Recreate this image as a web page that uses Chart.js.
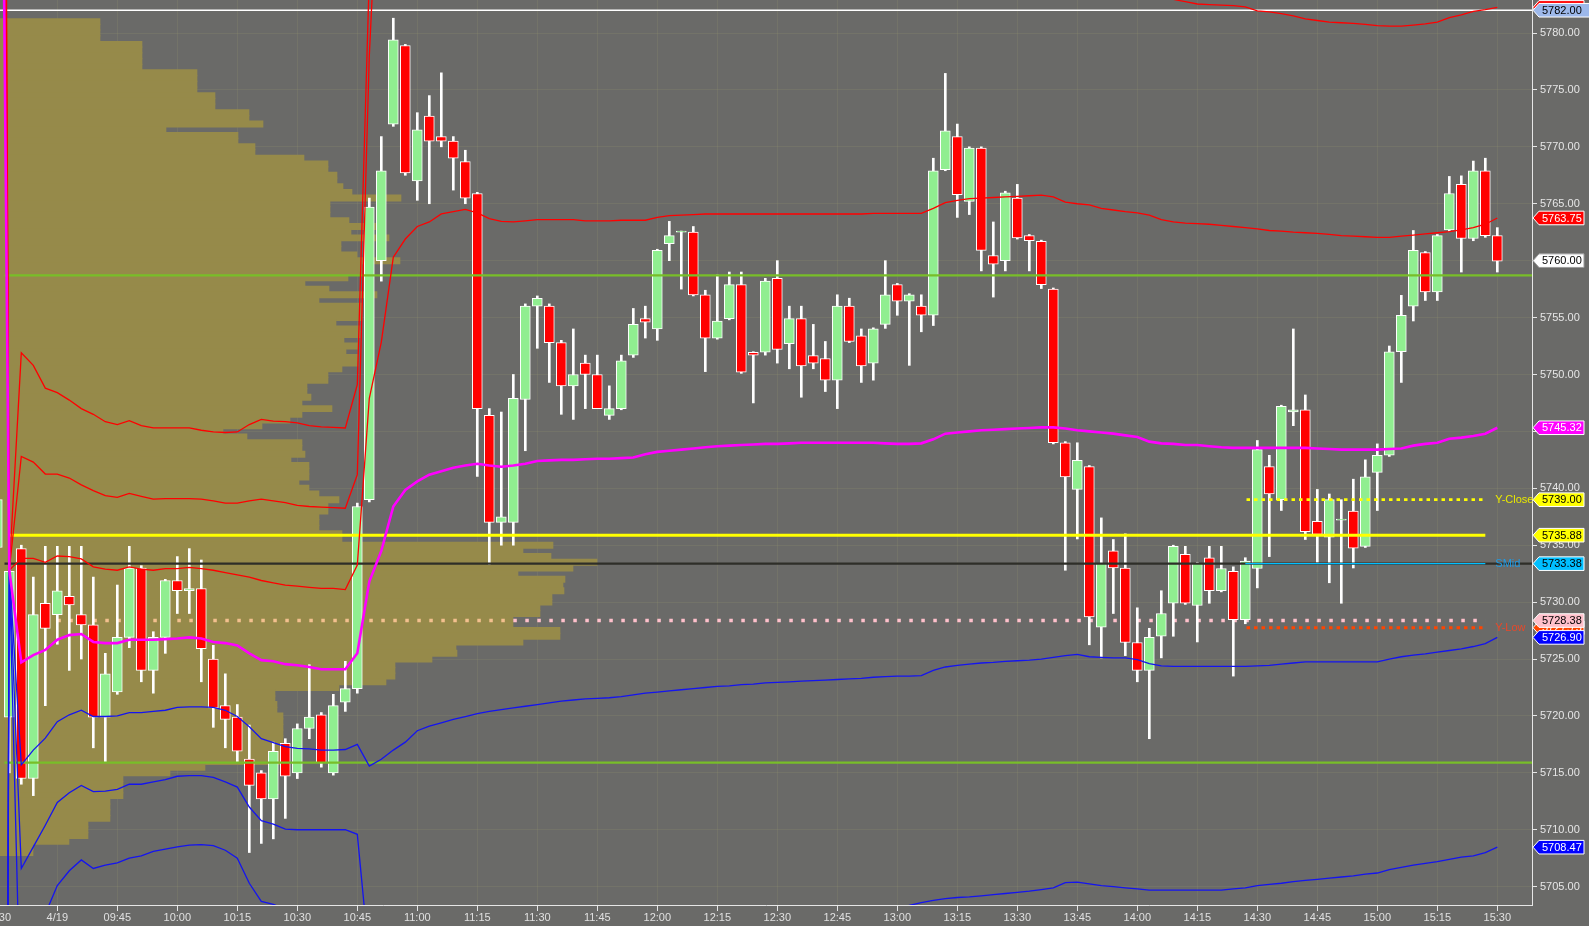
<!DOCTYPE html>
<html><head><meta charset="utf-8">
<script src="https://cdn.jsdelivr.net/npm/chart.js@4.4.1/dist/chart.umd.min.js"></script>
<style>html,body{margin:0;padding:0;background:#6a6a68;overflow:hidden}#wrap{width:1589px;height:926px}</style>
</head><body><div id="wrap"><canvas id="c" width="1589" height="926"></canvas></div>
<script>
// ---------- categories (3-minute bars, index 0 = 4/19 session label) ----------
const barIndex = [-5,-4,-3,-2,-1,0,1,2,3,4,5,6,7,8,9,10,11,12,13,14,15,16,17,18,19,20,21,22,23,24,25,26,27,28,29,30,31,32,33,34,35,36,37,38,39,40,41,42,43,44,45,46,47,48,49,50,51,52,53,54,55,56,57,58,59,60,61,62,63,64,65,66,67,68,69,70,71,72,73,74,75,76,77,78,79,80,81,82,83,84,85,86,87,88,89,90,91,92,93,94,95,96,97,98,99,100,101,102,103,104,105,106,107,108,109,110,111,112,113,114,115,116,117,118,119,120];
const tickBars = [-5,0,5,10,15,20,25,30,35,40,45,50,55,60,65,70,75,80,85,90,95,100,105,110,115,120];
const tickLabels = ["15:30","4/19","09:45","10:00","10:15","10:30","10:45","11:00","11:15","11:30","11:45","12:00","12:15","12:30","12:45","13:00","13:15","13:30","13:45","14:00","14:15","14:30","14:45","15:00","15:15","15:30"];
const yTicks = [5705,5710,5715,5720,5725,5730,5735,5740,5745,5750,5755,5760,5765,5770,5775,5780];

// ---------- candles ----------
const opens = [
5734.8,5719.9,5734.7,5714.5,5729.9,5728.9,5730.5,5728.9,5728.0,5719.9,
5722.1,5726.9,5733.0,5724.0,5726.9,5731.9,5731.0,5731.2,5725.0,5720.9,
5719.9,5716.2,5715.0,5712.7,5717.6,5715.0,5718.9,5720.1,5715.0,5721.2,
5722.4,5739.0,5760.0,5772.0,5778.9,5767.0,5772.7,5770.9,5770.5,5768.7,
5765.9,5746.4,5737.0,5737.0,5747.8,5756.0,5756.0,5752.8,5749.0,5751.0,
5750.0,5746.4,5747.0,5751.7,5754.9,5754.0,5761.5,5762.5,5762.5,5757.0,
5753.2,5754.9,5757.9,5751.95,5751.95,5758.45,5752.7,5754.9,5751.65,5751.4,
5749.5,5756.0,5753.4,5751.0,5754.4,5757.9,5756.45,5756.0,5755.2,5768.0,
5770.9,5765.2,5769.9,5760.45,5760.0,5765.5,5762.2,5761.7,5757.5,5744.0,
5739.9,5741.9,5727.8,5734.5,5733.0,5726.45,5724.0,5727.0,5729.9,5734.2,
5729.7,5733.9,5731.0,5732.7,5728.45,5732.95,5741.9,5739.0,5746.7,5746.9,
5737.1,5735.7,5737.2,5738.0,5734.9,5741.4,5742.9,5752.0,5756.0,5760.7,
5757.25,5762.7,5766.7,5761.95,5767.9,5762.2];
const highs = [
5739.6,5733.0,5735.0,5732.2,5734.9,5734.9,5734.9,5734.9,5732.2,5725.5,
5731.5,5734.9,5733.2,5727.4,5732.0,5734.0,5734.7,5733.7,5726.2,5723.7,
5721.0,5719.2,5715.2,5717.7,5718.0,5719.3,5724.5,5720.3,5721.9,5724.8,
5738.7,5765.5,5770.9,5781.3,5779.0,5773.0,5774.5,5776.5,5770.9,5769.7,
5766.0,5747.0,5746.7,5750.0,5756.2,5756.9,5756.2,5753.0,5754.0,5751.7,
5751.7,5749.0,5751.7,5755.8,5756.0,5761.0,5763.45,5762.6,5763.0,5757.4,
5758.75,5759.0,5759.0,5752.0,5758.45,5760.0,5756.0,5756.0,5754.4,5752.9,
5757.0,5756.7,5754.0,5754.1,5760.0,5758.0,5757.1,5757.0,5769.0,5776.45,
5772.0,5770.0,5770.0,5763.4,5766.1,5766.7,5762.3,5761.8,5757.6,5744.1,
5744.0,5742.0,5737.4,5735.5,5736.0,5729.5,5727.7,5731.0,5735.0,5734.9,
5733.5,5734.9,5734.9,5733.1,5733.9,5744.2,5742.9,5747.3,5754.0,5748.2,
5739.9,5739.5,5739.0,5740.8,5742.5,5743.9,5752.5,5756.95,5762.65,5760.8,
5762.3,5767.4,5767.45,5768.75,5769.0,5762.9];
const lows = [
5734.5,5715.0,5714.0,5713.0,5720.9,5726.3,5724.0,5725.0,5717.2,5715.9,
5721.9,5726.0,5723.0,5722.0,5725.5,5729.0,5729.0,5723.0,5719.0,5717.2,
5715.9,5708.0,5708.8,5709.2,5711.0,5714.5,5718.0,5715.5,5714.8,5720.4,
5722.0,5738.8,5758.2,5771.8,5767.5,5765.3,5765.0,5770.0,5766.2,5765.0,
5741.05,5733.3,5735.0,5735.0,5743.3,5752.3,5749.3,5746.5,5746.05,5747.0,
5747.0,5746.05,5746.9,5751.5,5753.2,5753.0,5760.0,5757.5,5756.9,5750.25,
5753.1,5754.8,5750.1,5747.5,5751.7,5751.0,5750.5,5748.0,5750.5,5748.5,
5747.0,5752.8,5749.3,5749.5,5754.05,5755.2,5750.8,5753.75,5754.3,5767.9,
5763.8,5764.05,5759.1,5756.8,5759.1,5761.9,5759.1,5757.55,5743.9,5732.8,
5735.55,5726.25,5725.1,5729.0,5725.3,5723.0,5718.0,5725.1,5727.0,5729.8,
5726.5,5729.9,5730.9,5723.5,5728.1,5731.25,5734.0,5738.05,5745.5,5735.5,
5733.5,5731.7,5729.9,5733.0,5734.8,5738.05,5742.8,5749.3,5754.7,5756.5,
5756.5,5762.6,5759.0,5761.75,5762.05,5759.0];
const closes = [
5739.0,5732.7,5714.5,5728.9,5727.7,5731.0,5729.75,5728.0,5719.9,5723.7,
5726.9,5733.0,5724.0,5726.9,5731.9,5731.0,5731.2,5725.9,5720.7,5719.7,
5716.9,5713.9,5712.7,5716.9,5714.7,5718.9,5719.9,5715.9,5720.9,5722.4,
5738.4,5764.7,5767.9,5779.4,5767.7,5771.5,5770.5,5770.5,5769.0,5765.5,
5747.0,5737.0,5737.5,5747.9,5756.0,5756.7,5752.8,5749.0,5750.0,5750.0,
5747.0,5747.0,5751.2,5754.4,5754.6,5760.9,5762.2,5762.6,5757.0,5753.2,
5754.7,5757.9,5750.2,5751.7,5758.2,5752.2,5754.9,5750.75,5751.0,5749.5,
5756.0,5752.9,5750.75,5754.0,5757.0,5756.45,5757.0,5755.2,5767.9,5771.4,
5765.8,5769.9,5760.9,5759.7,5765.95,5762.0,5761.75,5757.9,5744.0,5741.0,
5742.45,5728.7,5733.4,5733.0,5726.45,5724.0,5726.9,5729.0,5734.9,5729.9,
5733.4,5731.0,5732.95,5728.45,5733.6,5743.4,5739.5,5747.2,5746.9,5736.2,
5735.95,5739.0,5737.3,5734.75,5741.0,5742.9,5752.0,5755.2,5760.9,5757.25,
5762.2,5765.9,5761.95,5767.9,5762.2,5759.95];

// ---------- VWAP and deviation bands (per bar, from bar -5) ----------
const vwap = [
5850,5732.8,5724.7,5725.35,5725.8,5726.7,5727.1,5727.2,5726.5,5726.4,
5726.4,5726.7,5726.7,5726.7,5726.75,5726.8,5726.9,5726.8,5726.5,5726.4,
5726.2,5725.5,5724.9,5724.8,5724.55,5724.45,5724.3,5724.1,5724.1,5724.1,
5725.5,5731.8,5734.5,5738.4,5739.85,5740.6,5741.2,5741.5,5741.8,5742.0,
5742.15,5742.0,5741.9,5742.0,5742.15,5742.4,5742.45,5742.5,5742.5,5742.55,
5742.6,5742.6,5742.65,5742.7,5743.0,5743.2,5743.3,5743.4,5743.5,5743.6,
5743.7,5743.75,5743.8,5743.85,5743.9,5743.9,5743.95,5744.0,5744.0,5744.0,
5744.0,5744.0,5744.0,5744.0,5743.95,5743.9,5743.9,5743.95,5744.3,5744.8,
5744.9,5745.0,5745.1,5745.15,5745.2,5745.25,5745.3,5745.35,5745.35,5745.25,
5745.1,5745.0,5744.9,5744.8,5744.65,5744.5,5744.1,5743.95,5743.9,5743.8,
5743.8,5743.7,5743.6,5743.55,5743.55,5743.55,5743.55,5743.55,5743.55,5743.55,
5743.5,5743.45,5743.4,5743.4,5743.4,5743.4,5743.45,5743.5,5743.75,5743.9,
5744.0,5744.35,5744.45,5744.6,5744.8,5745.32];
const upper1 = [
5910,5732.8,5733.85,5733.85,5733.5,5734.05,5734.0,5733.8,5733.1,5732.9,
5732.8,5733.1,5732.9,5732.8,5732.95,5732.95,5733.05,5732.95,5732.8,5732.6,
5732.4,5732.2,5731.9,5731.7,5731.5,5731.4,5731.3,5731.2,5731.2,5731.1,
5733.25,5747.9,5752.85,5760.3,5761.9,5763.0,5763.4,5764.1,5764.3,5764.5,
5764.2,5763.7,5763.45,5763.4,5763.5,5763.6,5763.6,5763.6,5763.6,5763.5,
5763.5,5763.5,5763.55,5763.55,5763.55,5763.8,5763.95,5764.0,5764.05,5764.1,
5764.1,5764.1,5764.1,5764.1,5764.1,5764.1,5764.1,5764.1,5764.1,5764.1,
5764.1,5764.1,5764.1,5764.15,5764.15,5764.15,5764.15,5764.15,5764.6,5765.1,
5765.3,5765.45,5765.5,5765.55,5765.6,5765.65,5765.7,5765.75,5765.6,5765.15,
5765.0,5764.9,5764.6,5764.45,5764.3,5764.2,5764.0,5763.6,5763.4,5763.3,
5763.25,5763.2,5763.1,5763.0,5762.9,5762.8,5762.65,5762.6,5762.5,5762.45,
5762.4,5762.3,5762.2,5762.15,5762.1,5762.05,5762.05,5762.15,5762.25,5762.35,
5762.45,5762.55,5762.7,5762.9,5763.2,5763.75];
const lower1 = [
5500,5732.8,5715.7,5717.0,5718.05,5719.5,5720.1,5720.5,5719.95,5719.95,
5720.0,5720.3,5720.3,5720.4,5720.5,5720.75,5720.8,5720.8,5720.75,5720.5,
5719.95,5719.05,5718.0,5717.65,5717.3,5717.15,5717.1,5717.0,5717.0,5717.05,
5717.5,5715.6,5716.2,5717.0,5717.7,5718.7,5719.1,5719.4,5719.7,5719.95,
5720.2,5720.4,5720.55,5720.7,5720.85,5721.0,5721.15,5721.3,5721.4,5721.5,
5721.55,5721.6,5721.7,5721.85,5722.0,5722.1,5722.2,5722.3,5722.4,5722.5,
5722.6,5722.65,5722.75,5722.8,5722.9,5722.95,5723.0,5723.05,5723.1,5723.15,
5723.2,5723.25,5723.3,5723.4,5723.45,5723.5,5723.5,5723.55,5724.0,5724.3,
5724.45,5724.55,5724.65,5724.7,5724.8,5724.85,5724.9,5725.0,5725.15,5725.3,
5725.4,5725.2,5725.15,5725.1,5725.1,5724.95,5724.6,5724.4,5724.35,5724.35,
5724.35,5724.35,5724.35,5724.35,5724.35,5724.4,5724.45,5724.55,5724.65,5724.75,
5724.75,5724.75,5724.75,5724.75,5724.75,5724.75,5725.0,5725.2,5725.35,5725.45,
5725.6,5725.75,5725.9,5726.1,5726.35,5726.9];
// segments that leave the visible price range (start bar + values)
const upper2EarlyStart = -5;
const upper2Early = [5930,5732.8,5742.8,5742.3,5741.25,5741.25,5740.9,5740.3,5739.8,5739.35,5739.2,5739.55,5739.3,5739.05,5739.1,5739.1,5739.1,5739.05,5738.9,5738.7,5738.7,5738.9,5739.05,5738.9,5738.75,5738.5,5738.4,5738.35,5738.3,5738.25,5741.2,5778,5800];
const upper2LateStart = 90;
const upper2Late = [5784.5,5783.6,5783.1,5782.95,5782.75,5782.55,5782.5,5782.45,5782.4,5782.3,5781.95,5781.85,5781.7,5781.5,5781.25,5781.1,5780.95,5780.9,5780.85,5780.75,5780.65,5780.6,5780.6,5780.7,5780.8,5780.95,5781.35,5781.6,5781.9,5782.05,5782.25];
const upper3Start = -5;
const upper3 = [5950,5732.8,5751.9,5750.8,5748.8,5748.4,5747.75,5747.0,5746.5,5745.85,5745.6,5745.95,5745.5,5745.3,5745.3,5745.3,5745.3,5745.1,5744.95,5744.9,5744.95,5745.6,5746.05,5745.9,5745.85,5745.75,5745.5,5745.4,5745.35,5745.3,5749.1,5785,5820];
const lower2EarlyStart = -5;
const lower2Early = [5480,5732.8,5706.6,5708.5,5710.4,5712.4,5713.25,5713.9,5713.35,5713.4,5713.55,5714.0,5714.0,5714.2,5714.4,5714.7,5714.75,5714.75,5714.6,5714.2,5713.75,5712.0,5710.8,5710.5,5710.05,5710.0,5710.0,5710.0,5710.0,5710.0,5709.6,5698.6];
const lower2LateStart = 69;
const lower2Late = [5702.6,5703.0,5703.35,5703.6,5703.8,5703.95,5704.05,5704.1,5704.2,5704.3,5704.4,5704.5,5704.6,5704.75,5704.9,5705.35,5705.4,5705.25,5705.1,5705.0,5704.9,5704.8,5704.7,5704.7,5704.7,5704.7,5704.7,5704.7,5704.7,5704.8,5704.9,5705.1,5705.2,5705.3,5705.45,5705.55,5705.65,5705.75,5705.85,5705.95,5706.1,5706.2,5706.5,5706.7,5706.9,5707.05,5707.2,5707.4,5707.6,5707.7,5708.0,5708.47];
const lower3Start = -5;
const lower3 = [5460,5732.8,5691,5696,5702.6,5705.1,5706.4,5707.35,5706.6,5706.9,5707.1,5707.5,5707.7,5708.1,5708.3,5708.5,5708.65,5708.7,5708.6,5708.2,5707.5,5705.3,5703.7,5703.45,5703.0];

// ---------- horizontal levels ----------
const levelValue = [5782.00, 5758.70, 5715.90, 5735.88, 5733.38, 5733.38, 5739.00, 5727.75, 5728.38];
const levelFrom  = [-6, -4.4, -4.4, -4, -4.4, 99, 99.1, 99.1, 0];
const levelTo    = [124, 124, 124, 119, 124, 119, 119, 119, 119];
const levelText  = ["", "", "", "", "", "SMid", "Y-Close", "Y-Low", ""];

// ---------- volume profile (rows of 0.5 pt) ----------
const profilePrices = [
5781,5780.5,5780,5779.5,5779,5778.5,5778,5777.5,5777,5776.5,
5776,5775.5,5775,5774.5,5774,5773.5,5773,5772.5,5772,5771.5,
5771,5770.5,5770,5769.5,5769,5768.5,5768,5767.5,5767,5766.5,
5766,5765.5,5765,5764.5,5764,5763.5,5763,5762.5,5762,5761.5,
5761,5760.5,5760,5759.5,5759,5758.5,5758,5757.5,5757,5756.5,
5756,5755.5,5755,5754.5,5754,5753.5,5753,5752.5,5752,5751.5,
5751,5750.5,5750,5749.5,5749,5748.5,5748,5747.5,5747,5746.5,
5746,5745.5,5745,5744.5,5744,5743.5,5743,5742.5,5742,5741.5,
5741,5740.5,5740,5739.5,5739,5738.5,5738,5737.5,5737,5736.5,
5736,5735.5,5735,5734.5,5734,5733.5,5733,5732.5,5732,5731.5,
5731,5730.5,5730,5729.5,5729,5728.5,5728,5727.5,5727,5726.5,
5726,5725.5,5725,5724.5,5724,5723.5,5723,5722.5,5722,5721.5,
5721,5720.5,5720,5719.5,5719,5718.5,5718,5717.5,5717,5716.5,
5716,5715.5,5715,5714.5,5714,5713.5,5713,5712.5,5712,5711.5,
5711,5710.5,5710,5709.5,5709,5708.5,5708];
const profileVolume = [
100,100,100,100,142,142,142,142,142,197,
197,197,197,215,215,215,249,249,263,166,
238,238,255,255,304,328,328,337,337,343,
352,401,330,330,330,349,380,351,389,341,
341,357,400,362,362,348,305,329,377,319,
362,362,362,336,360,360,344,358,346,358,
358,342,328,328,307,307,311,302,332,302,
290,262,223,247,302,302,305,291,309,309,
309,299,309,319,339,328,328,319,319,319,
342,342,553,523,551,597,573,518,565,563,
564,552,552,540,540,513,513,560,560,523,
456,457,432,395,395,395,386,339,275,275,
277,277,283,283,283,283,283,283,283,283,
283,205,170,123,123,123,123,110,110,110,
110,88,88,88,69,33,33];

// ---------- right-axis price tags ----------
const tagValues = [5782.25, 5782.00, 5763.75, 5760.00, 5745.32, 5739.00, 5735.88, 5733.38, 5727.75, 5728.38, 5726.90, 5708.47];
const tagBg     = ['#ff0000','#9db8ea','#ff0000','#ffffff','#ff00ff','#ffff00','#ffff00','#00bfff','#ff4500','#ffc0cb','#0000ff','#0000ff'];
const tagFg     = ['#ffffff','#000000','#ffffff','#000000','#ffffff','#000000','#000000','#000000','#ffffff','#000000','#ffffff','#ffffff'];

// ================= build chart =================
const FONT = '"Liberation Sans", Arial, sans-serif';
Chart.defaults.font.family = FONT;

function seg(vals, start) { return vals.map((v, i) => ({x: start + i, y: v})); }
function lineDs(data, color, width, order, extra) {
  return Object.assign({type:'line', xAxisID:'x', yAxisID:'y', order, data, borderColor:color, backgroundColor:color,
    borderWidth:width, pointRadius:0, tension:0, fill:false, spanGaps:false}, extra || {});
}
function levelData(i) { return [{x: levelFrom[i], y: levelValue[i]}, {x: levelTo[i], y: levelValue[i]}]; }

const PROFILE_END_BAR = 38;   // where the dotted pink level leaves the profile block (style split)
const datasets = [];
// volume profile
datasets.push({type:'bar', indexAxis:'y', xAxisID:'xp', yAxisID:'y', order:90, grouped:false,
  data: profilePrices.map((p, i) => ({x: profileVolume[i], y: p})),
  backgroundColor:'#968a4a', borderWidth:0, barThickness:6.3});
// pink dotted level (tinted where it lies over the profile)
datasets.push(lineDs([{x: levelFrom[8], y: levelValue[8]}, {x: PROFILE_END_BAR, y: levelValue[8]}, {x: levelTo[8], y: levelValue[8]}],
  '#ffc0cb', 3.5, 60, {borderDash:[3.5, 8.5], segment:{ borderColor: c => c.p0.parsed.x < PROFILE_END_BAR ? '#f3c08e' : '#ffc0cb' }}));
// candle wicks & bodies
datasets.push({type:'bar', xAxisID:'x', yAxisID:'y', order:50, grouped:false, barThickness:2,
  data: lows.map((l, i) => ({x: barIndex[i], y:[l, highs[i]]})), backgroundColor:'#ffffff', borderWidth:0});
datasets.push({type:'bar', xAxisID:'x', yAxisID:'y', order:40, grouped:false, barThickness:10,
  data: opens.map((o, i) => ({x: barIndex[i], y:[o, closes[i]]})),
  backgroundColor: opens.map((o, i) => closes[i] >= o ? '#90ee90' : '#ff0000'),
  borderColor:'#ffffff', borderWidth:1, borderSkipped:false});
// level lines
datasets.push(lineDs(levelData(0), '#ffffff', 1.5, 20));
datasets.push(lineDs(levelData(1), '#78be28', 2.2, 20));
datasets.push(lineDs(levelData(2), '#78be28', 2.2, 20));
datasets.push(lineDs(levelData(4), '#2e2e28', 2.2, 20));
datasets.push(lineDs(levelData(3), '#ffff00', 3, 19));
datasets.push(lineDs(levelData(5), '#00bfff', 1.2, 19));
datasets.push(lineDs(levelData(6), '#ffff00', 2.8, 19, {borderDash:[3.5, 4]}));
datasets.push(lineDs(levelData(7), '#ff4500', 2.8, 19, {borderDash:[3.5, 4]}));
// bands
const RED = '#ff0000', BLUE = '#1414f0';
datasets.push(lineDs(seg(upper3, upper3Start), RED, 1.3, 10));
datasets.push(lineDs(seg(upper2Early, upper2EarlyStart), RED, 1.3, 10));
datasets.push(lineDs(seg(upper2Late, upper2LateStart), RED, 1.3, 10));
datasets.push(lineDs(seg(upper1, barIndex[0]), RED, 1.3, 10));
datasets.push(lineDs(seg(lower1, barIndex[0]), BLUE, 1.3, 10));
datasets.push(lineDs(seg(lower2Early, lower2EarlyStart), BLUE, 1.3, 10));
datasets.push(lineDs(seg(lower2Late, lower2LateStart), BLUE, 1.3, 10));
datasets.push(lineDs(seg(lower3, lower3Start), BLUE, 1.3, 10));
datasets.push(lineDs(seg(vwap, barIndex[0]), '#ff00ff', 2.6, 5));

const levelTextColor = ['', '', '', '', '', '#1e9be6', '#e8e800', '#e8482a', ''];

const bgPlugin = {
  id:'bg',
  beforeDraw(chart) {
    const ctx = chart.ctx;
    ctx.save(); ctx.fillStyle = '#6a6a68'; ctx.fillRect(0, 0, chart.width, chart.height); ctx.restore();
  }
};
const tagPlugin = {
  id:'tags',
  afterDraw(chart) {
    const ctx = chart.ctx, ys = chart.scales.y, xs = chart.scales.x, area = chart.chartArea;
    ctx.save();
    ctx.font = '11px ' + FONT;
    ctx.textBaseline = 'middle';
    ctx.textAlign = 'left';
    for (let i = 0; i < levelText.length; i++) {
      if (!levelText[i]) continue;
      ctx.fillStyle = levelTextColor[i];
      ctx.fillText(levelText[i], xs.getPixelForValue(levelTo[i]) + 10, ys.getPixelForValue(levelValue[i]));
    }
    for (let i = 0; i < tagValues.length; i++) {
      const y = ys.getPixelForValue(tagValues[i]);
      const x0 = area.right + 1, xa = x0 + 6;
      const xr = (i === 1) ? chart.width + 2 : x0 + 51;
      const h2 = 6.8;
      ctx.beginPath();
      ctx.moveTo(x0, y); ctx.lineTo(xa, y - h2); ctx.lineTo(xr, y - h2); ctx.lineTo(xr, y + h2); ctx.lineTo(xa, y + h2); ctx.closePath();
      ctx.fillStyle = tagBg[i]; ctx.fill();
      ctx.lineWidth = 1; ctx.strokeStyle = tagBg[i] === '#ffffff' ? '#9a9a9a' : '#ffffff'; ctx.stroke();
      ctx.fillStyle = tagFg[i];
      ctx.fillText(tagValues[i].toFixed(2), x0 + 9, y + 0.5);
    }
    ctx.restore();
  }
};

const GRID = 'rgba(150,150,110,0.22)';
new Chart(document.getElementById('c'), {
  data: { datasets },
  options: {
    responsive:false, animation:false, events:[], devicePixelRatio:1,
    layout:{ padding:0 },
    plugins:{ legend:{display:false}, tooltip:{enabled:false} },
    scales:{
      x:{ type:'linear', position:'bottom', min:-4.775, max:122.89, offset:false,
        afterBuildTicks: s => { s.ticks = tickBars.map(v => ({value:v})); },
        afterFit: s => { s.height = 21; s.paddingLeft = 0; s.paddingRight = 0; },
        ticks:{ autoSkip:false, maxRotation:0, minRotation:0, padding:0, color:'#e0e0e0', font:{size:11, family:FONT},
          callback:(v, i) => tickLabels[i] },
        grid:{ offset:false, color:GRID, tickColor:'#e6e6e6', tickLength:6, drawTicks:true },
        border:{ color:'#e6e6e6', width:1 } },
      xp:{ type:'linear', axis:'x', display:false, min:0, max:1532, offset:false },
      y:{ type:'linear', position:'right', min:5703.39, max:5782.90, offset:false,
        afterBuildTicks: s => { s.ticks = yTicks.map(v => ({value:v})); },
        afterFit: s => { s.width = 57; s.paddingTop = 0; s.paddingBottom = 0; },
        ticks:{ padding:3, color:'#e6e6e6', font:{size:11, family:FONT}, callback: v => Number(v).toFixed(2) },
        grid:{ offset:false, color:GRID, tickColor:'#e6e6e6', tickLength:5, drawTicks:true },
        border:{ color:'#e6e6e6', width:1 } }
    }
  },
  plugins:[bgPlugin, tagPlugin]
});
</script></body></html>
